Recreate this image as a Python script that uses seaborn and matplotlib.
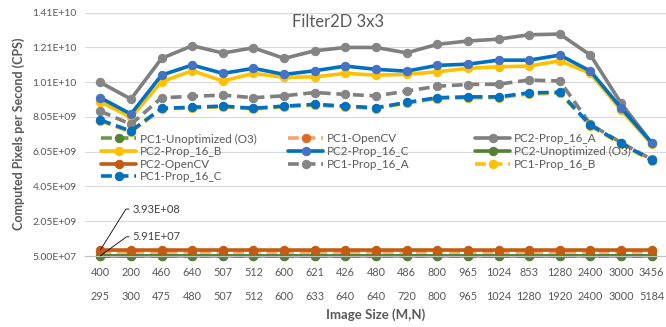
import seaborn as sns
import matplotlib.pyplot as plt
import matplotlib.transforms as mtransforms
import numpy as np

# image sizes (M on first row, N on second row)
m_size = [400, 200, 460, 640, 507, 512, 600, 621, 426, 480, 486, 800, 965, 1024, 853, 1280, 2400, 3000, 3456]
n_size = [295, 300, 475, 480, 507, 512, 600, 633, 640, 640, 720, 800, 965, 1024, 1280, 1920, 2400, 3000, 5184]

y_ticks = [5.0e7, 2.05e9, 4.05e9, 6.05e9, 8.05e9, 1.005e10, 1.205e10, 1.405e10]
y_tick_labels = ['5.00E+07', '2.05E+09', '4.05E+09', '6.05E+09', '8.05E+09', '1.01E+10', '1.21E+10', '1.41E+10']

pc1_unopt = [5.00e7, 5.01e7, 5.00e7, 5.02e7, 5.01e7, 5.00e7, 5.01e7, 5.00e7, 5.01e7, 5.00e7,
             5.01e7, 5.00e7, 5.01e7, 5.00e7, 5.01e7, 5.00e7, 5.00e7, 5.01e7, 5.00e7]
pc1_opencv = [2.80e8, 2.82e8, 2.81e8, 2.83e8, 2.80e8, 2.82e8, 2.81e8, 2.80e8, 2.82e8, 2.81e8,
              2.80e8, 2.82e8, 2.81e8, 2.80e8, 2.82e8, 2.81e8, 2.80e8, 2.81e8, 2.82e8]
pc2_prop_a = [1.003e10, 9.07e9, 1.141e10, 1.214e10, 1.172e10, 1.202e10, 1.141e10, 1.185e10, 1.204e10, 1.204e10,
              1.173e10, 1.222e10, 1.241e10, 1.252e10, 1.277e10, 1.281e10, 1.160e10, 8.84e9, 6.54e9]
pc2_prop_b = [8.92e9, 8.02e9, 1.007e10, 1.070e10, 1.011e10, 1.055e10, 1.032e10, 1.035e10, 1.055e10, 1.045e10,
              1.049e10, 1.064e10, 1.084e10, 1.093e10, 1.097e10, 1.127e10, 1.055e10, 8.44e9, 6.49e9]
pc2_prop_c = [9.15e9, 8.21e9, 1.045e10, 1.103e10, 1.055e10, 1.084e10, 1.049e10, 1.070e10, 1.097e10, 1.078e10,
              1.068e10, 1.101e10, 1.108e10, 1.131e10, 1.131e10, 1.160e10, 1.068e10, 8.57e9, 6.56e9]
pc2_unopt = [5.91e7, 5.90e7, 5.92e7, 5.91e7, 5.90e7, 5.91e7, 5.92e7, 5.90e7, 5.91e7, 5.90e7,
             5.91e7, 5.92e7, 5.90e7, 5.91e7, 5.90e7, 5.91e7, 5.90e7, 5.91e7, 5.90e7]
pc2_opencv = [3.93e8, 3.94e8, 3.93e8, 3.95e8, 3.93e8, 3.94e8, 3.93e8, 3.94e8, 3.93e8, 3.92e8,
              3.93e8, 3.94e8, 3.93e8, 3.92e8, 3.93e8, 3.94e8, 3.93e8, 3.92e8, 3.93e8]
pc1_prop_a = [8.38e9, 7.62e9, 9.15e9, 9.23e9, 9.30e9, 9.15e9, 9.26e9, 9.45e9, 9.34e9, 9.26e9,
              9.53e9, 9.81e9, 9.91e9, 9.93e9, 1.017e10, 1.011e10, 7.62e9, 6.57e9, 5.60e9]
pc1_prop_b = [7.82e9, 7.18e9, 8.50e9, 8.56e9, 8.63e9, 8.50e9, 8.63e9, 8.72e9, 8.62e9, 8.53e9,
              8.83e9, 9.10e9, 9.14e9, 9.15e9, 9.37e9, 9.40e9, 7.53e9, 6.48e9, 5.52e9]
pc1_prop_c = [7.87e9, 7.23e9, 8.54e9, 8.60e9, 8.67e9, 8.54e9, 8.67e9, 8.77e9, 8.67e9, 8.57e9,
              8.88e9, 9.15e9, 9.20e9, 9.20e9, 9.43e9, 9.46e9, 7.58e9, 6.53e9, 5.57e9]

# label, values, line colour, marker colour, dashed
series = [
    ('PC1-Unoptimized (O3)', pc1_unopt, '#6a9a43', '#548235', True),
    ('PC1-OpenCV', pc1_opencv, '#f4a46e', '#dd6a25', True),
    ('PC2-Prop_16_A', pc2_prop_a, '#7f7f7f', '#858585', False),
    ('PC2-Prop_16_B', pc2_prop_b, '#ffc000', '#ffc000', False),
    ('PC2-Prop_16_C', pc2_prop_c, '#0070c0', '#4472c4', False),
    ('PC2-Unoptimized (O3)', pc2_unopt, '#548235', '#548235', False),
    ('PC2-OpenCV', pc2_opencv, '#c55a11', '#c55a11', False),
    ('PC1-Prop_16_A', pc1_prop_a, '#7f7f7f', '#858585', True),
    ('PC1-Prop_16_B', pc1_prop_b, '#ffc000', '#ffc000', True),
    ('PC1-Prop_16_C', pc1_prop_c, '#0070c0', '#0070c0', True),
]

sns.set_style('white')
plt.rcParams['font.family'] = ['Lato', 'DejaVu Sans']
txt_col = '#595959'

fig = plt.figure(figsize=(6.66, 3.27), dpi=100)
ax = fig.add_axes([85 / 666, 71 / 327, 582 / 666, 243.5 / 327])

idx = np.arange(len(m_size))
handles = {}
for label, vals, lc, mc, dashed in series:
    ls = (0, (3, 1.6)) if dashed else '-'
    sns.lineplot(x=idx, y=vals, ax=ax, color=lc, linestyle=ls, linewidth=2.6,
                 marker='o', markersize=6, markerfacecolor=mc, markeredgecolor=mc,
                 clip_on=False, label=label, legend=False)
    handles[label] = ax.lines[-1]

ax.set_xlim(-0.5, len(m_size) - 0.5)
ax.set_ylim(5e7, 1.405e10)
ax.set_yticks(y_ticks)
ax.set_yticklabels(y_tick_labels)
ax.tick_params(axis='y', length=0, labelsize=7.5, labelcolor=txt_col, pad=6)
ax.grid(axis='y', color='#d9d9d9', linewidth=0.8)
ax.set_axisbelow(True)
for s in ['left', 'right', 'top']:
    ax.spines[s].set_visible(False)
ax.spines['bottom'].set_color('#bfbfbf')
ax.spines['bottom'].set_linewidth(0.8)

# two-level category axis
ax.set_xticks(idx)
ax.set_xticklabels([])
ax.tick_params(axis='x', which='major', length=0)
ax.set_xticks(np.arange(-0.5, len(m_size), 1), minor=True)
ax.tick_params(axis='x', which='minor', length=35, width=0.8, color='#d9d9d9')
trans = mtransforms.blended_transform_factory(ax.transData, ax.transAxes)
for i in idx:
    ax.text(i, -16 / 243.5, str(m_size[i]), transform=trans, ha='center', va='center',
            fontsize=7.8, color=txt_col)
    ax.text(i, -40 / 243.5, str(n_size[i]), transform=trans, ha='center', va='center',
            fontsize=7.8, color=txt_col)

fig.text(376 / 666, 1 - 315 / 327, 'Image Size (M,N)', ha='center', va='center',
         fontsize=9.5, fontweight='bold', color=txt_col)
ax.set_ylabel('Computed Pixels per Second (CPS)', fontsize=9, fontweight='bold',
              color=txt_col, labelpad=5)
fig.text(338 / 666, 1 - 22 / 327, 'Filter2D 3x3', ha='center', va='center',
         fontsize=12, color=txt_col)

# data labels on first points
ax.annotate('3.93E+08', xy=(0, pc2_opencv[0]), xytext=(23, 29.5),
            textcoords='offset points', ha='left', va='center', fontsize=8, color='#404040',
            arrowprops=dict(arrowstyle='-', color='black', lw=0.6, shrinkA=0, shrinkB=0,
                            relpos=(0, 0.5), connectionstyle='angle,angleA=180,angleB=58,rad=0'))
ax.annotate('5.91E+07', xy=(0, pc2_unopt[0]), xytext=(23, 13.7),
            textcoords='offset points', ha='left', va='center', fontsize=8, color='#404040',
            arrowprops=dict(arrowstyle='-', color='black', lw=0.6, shrinkA=0, shrinkB=0,
                            relpos=(0, 0.5), connectionstyle='angle,angleA=180,angleB=36,rad=0'))

# legend, three columns filled row by row
cols = [
    ['PC1-Unoptimized (O3)', 'PC2-Prop_16_B', 'PC2-OpenCV', 'PC1-Prop_16_C'],
    ['PC1-OpenCV', 'PC2-Prop_16_C', 'PC1-Prop_16_A'],
    ['PC2-Prop_16_A', 'PC2-Unoptimized (O3)', 'PC1-Prop_16_B'],
]
col_x = [101, 288, 475]
for k, names in enumerate(cols):
    leg = ax.legend([handles[n] for n in names], names, loc='upper left',
                    bbox_to_anchor=(col_x[k] / 666, 1 - 133.5 / 327), bbox_transform=fig.transFigure,
                    frameon=False, fontsize=8.4, handlelength=3.0, handletextpad=0.3,
                    labelspacing=0.14, borderpad=0, borderaxespad=0, labelcolor=txt_col)
    if k < len(cols) - 1:
        ax.add_artist(leg)

plt.savefig('out.png', dpi=100)
